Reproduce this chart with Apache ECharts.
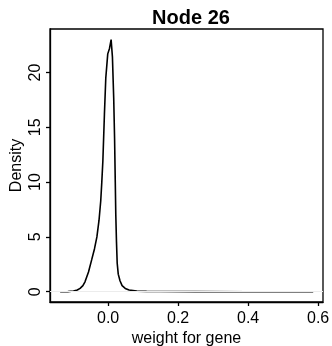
<!DOCTYPE html>
<html>
<head>
<meta charset="utf-8">
<script src="https://cdn.jsdelivr.net/npm/echarts@6/dist/echarts.min.js"></script>
<style>html,body{margin:0;padding:0;background:#fff;}#c{width:332px;height:346px;}</style>
</head>
<body>
<div id="c"></div>
<script>
const titleText = "Node 26";
const xName = "weight for gene";
const yName = "Density";
const xTicks = [0.0, 0.2, 0.4, 0.6];
const yTicks = [0, 5, 10, 15, 20];
const weights = [-0.137,-0.115,-0.099,-0.088,-0.080,-0.072,-0.066,-0.056,-0.047,-0.039,-0.032,-0.026,-0.021,-0.018,-0.015,-0.0105,-0.0066,-0.001,0.004,0.0086,0.0124,0.016,0.0185,0.0205,0.022,0.024,0.026,0.029,0.034,0.040,0.049,0.060,0.082,0.11,0.15,0.25,0.4,0.586];
const density = [0,0.01,0.06,0.15,0.3,0.55,0.9,1.8,2.9,3.9,5.0,6.5,8.3,10.0,11.9,16.2,19.5,21.7,22.2,23.0,21.4,17.7,14.0,10.0,7.0,4.5,2.6,1.6,1.0,0.55,0.3,0.15,0.05,0.03,0.02,0.01,0.0,0.0];

const font = "'Liberation Sans', Arial, Helvetica, sans-serif";
const chart = echarts.init(document.getElementById('c'), null, {renderer: 'canvas'});
chart.setOption({
  animation: false,
  backgroundColor: '#fff',
  title: {
    text: titleText, left: 186, top: 3, textAlign: 'center',
    textStyle: {fontFamily: font, fontWeight: 'bold', fontSize: 20, color: '#000'}
  },
  grid: {left: 50, right: 9, top: 29, bottom: 44, containLabel: false, outerBoundsMode: 'none', show: true, borderColor: '#000', borderWidth: 1.3, backgroundColor: 'transparent'},
  xAxis: {
    type: 'value', min: -0.166, max: 0.614,
    name: xName, nameLocation: 'middle', nameGap: 29, nameMoveOverlap: false,
    nameTextStyle: {fontFamily: font, fontSize: 16, color: '#000'},
    axisLine: {show: true, onZero: false, lineStyle: {color: '#000', width: 1.3}},
    axisTick: {show: true, length: 4, inside: false, customValues: xTicks, lineStyle: {color: '#000', width: 1.3}},
    axisLabel: {customValues: xTicks, margin: 9, fontFamily: font, fontSize: 16, color: '#000', formatter: v => v.toFixed(1)},
    splitLine: {show: false}
  },
  yAxis: {
    type: 'value', min: -0.94, max: 23.97,
    name: yName, nameLocation: 'middle', nameGap: 25, nameMoveOverlap: false,
    nameTextStyle: {fontFamily: font, fontSize: 16, color: '#000'},
    axisLine: {show: true, onZero: false, lineStyle: {color: '#000', width: 1.3}},
    axisTick: {show: true, length: 4, inside: false, customValues: yTicks, lineStyle: {color: '#000', width: 1.3}},
    axisLabel: {customValues: yTicks, rotate: 90, margin: 6, fontFamily: font, fontSize: 16, color: '#000'},
    splitLine: {show: false}
  },
  series: [{
    type: 'line',
    data: weights.map((w, i) => [w, density[i]]),
    showSymbol: false, symbol: 'none', smooth: false,
    lineStyle: {color: '#000', width: 1.6},
    markLine: {
      silent: true, symbol: 'none', label: {show: false},
      lineStyle: {color: '#ececec', width: 1, type: 'solid'},
      data: [{yAxis: 0}]
    },
    z: 3
  }]
});
</script>
</body>
</html>
